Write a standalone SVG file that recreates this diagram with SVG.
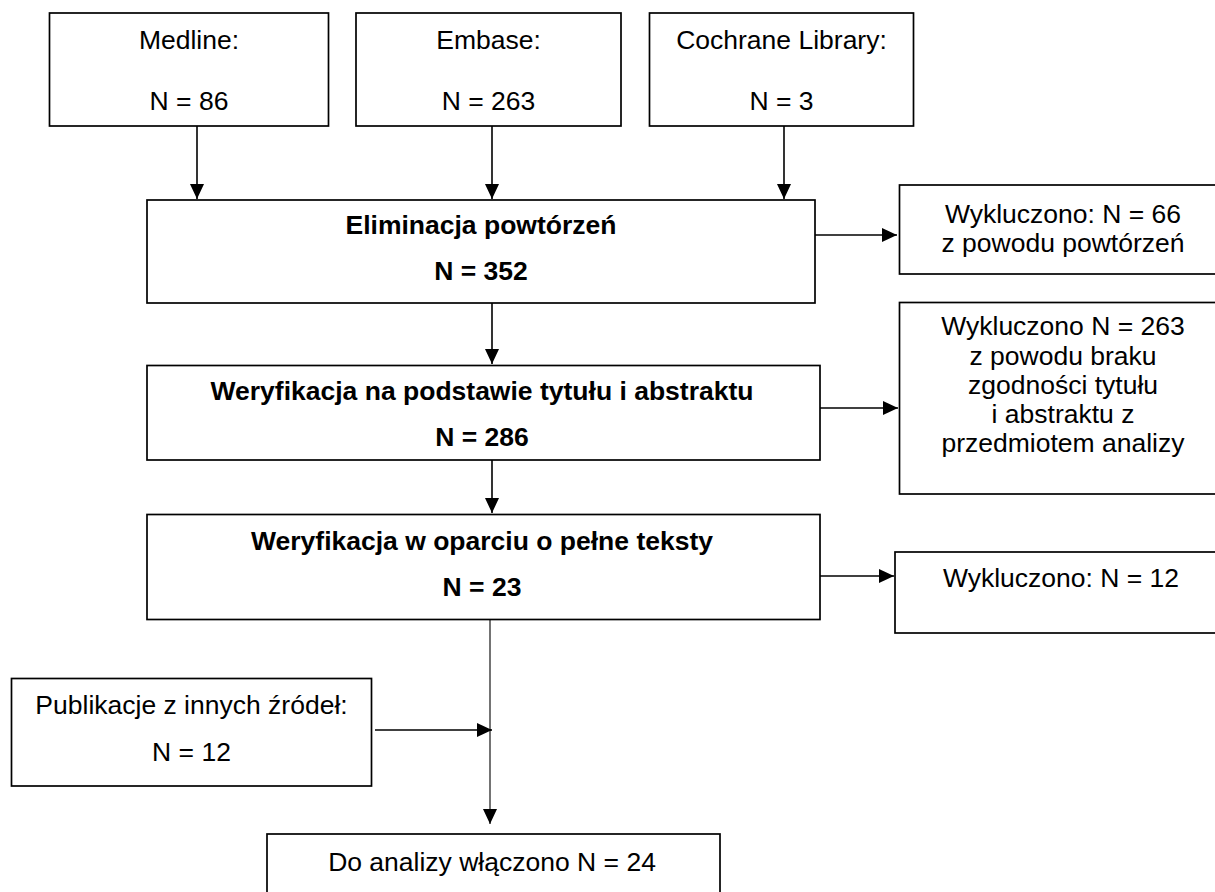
<svg xmlns="http://www.w3.org/2000/svg" width="1215" height="892" viewBox="0 0 1215 892">
<defs>
<marker id="ah" markerUnits="userSpaceOnUse" markerWidth="16" markerHeight="14" refX="15" refY="7" orient="auto">
<path d="M0,0 L15,7 L0,14 Z" fill="#000"/>
</marker>
<style>
.box{fill:#fff;stroke:#000;stroke-width:1.7}
.t{font-family:"Liberation Sans",Arial,sans-serif;font-size:26.5px;fill:#000;text-anchor:middle}
.b{font-weight:bold}
.c{fill:none;stroke:#000;stroke-width:1.6}
.thin{stroke-width:1.1}
</style>
</defs>
<rect width="1215" height="892" fill="#fff"/>
<g id="medline">
<rect class="box" x="49.5" y="13" width="279" height="113"/>
<text class="t" x="189" y="49">Medline:</text>
<text class="t" x="189" y="110">N = 86</text>
</g>
<g id="embase">
<rect class="box" x="356" y="13" width="265" height="113"/>
<text class="t" x="488.5" y="49">Embase:</text>
<text class="t" x="488.5" y="110">N = 263</text>
</g>
<g id="cochrane">
<rect class="box" x="649.5" y="13" width="264" height="113"/>
<text class="t" x="781.5" y="49">Cochrane Library:</text>
<text class="t" x="781.5" y="110">N = 3</text>
</g>
<g id="elim">
<rect class="box" x="147" y="200" width="668" height="103"/>
<text class="t b" x="481" y="234">Eliminacja powtórzeń</text>
<text class="t b" x="481" y="280">N = 352</text>
</g>
<g id="excl1">
<rect class="box" x="899.5" y="185" width="330" height="89"/>
<text class="t" x="1063" y="223">Wykluczono: N = 66</text>
<text class="t" x="1063" y="252">z powodu powtórzeń</text>
</g>
<g id="weryf1">
<rect class="box" x="147" y="365.5" width="673" height="94.5"/>
<text class="t b" x="482" y="400">Weryfikacja na podstawie tytułu i abstraktu</text>
<text class="t b" x="482" y="446">N = 286</text>
</g>
<g id="excl2">
<rect class="box" x="899.5" y="302.5" width="330" height="191.5"/>
<text class="t" x="1063" y="335">Wykluczono N = 263</text>
<text class="t" x="1063" y="365">z powodu braku</text>
<text class="t" x="1063" y="394">zgodności tytułu</text>
<text class="t" x="1063" y="423">i abstraktu z</text>
<text class="t" x="1063" y="452">przedmiotem analizy</text>
</g>
<g id="weryf2">
<rect class="box" x="147" y="514.5" width="673" height="105"/>
<text class="t b" x="482" y="550">Weryfikacja w oparciu o pełne teksty</text>
<text class="t b" x="482" y="596">N = 23</text>
</g>
<g id="excl3">
<rect class="box" x="895" y="552" width="335" height="81"/>
<text class="t" x="1061" y="587">Wykluczono: N = 12</text>
</g>
<g id="publikacje">
<rect class="box" x="11.5" y="678.5" width="360" height="107.5"/>
<text class="t" x="191.5" y="714">Publikacje z innych źródeł:</text>
<text class="t" x="191.5" y="761">N = 12</text>
</g>
<g id="final">
<rect class="box" x="267" y="834" width="453" height="70"/>
<text class="t" x="492" y="871">Do analizy włączono N = 24</text>
</g>
<g id="connectors">
<line class="c" x1="197" y1="126" x2="197" y2="199" marker-end="url(#ah)"/>
<line class="c" x1="492" y1="126" x2="492" y2="199" marker-end="url(#ah)"/>
<line class="c" x1="784" y1="126" x2="784" y2="199" marker-end="url(#ah)"/>
<line class="c" x1="815" y1="235" x2="897" y2="235" marker-end="url(#ah)"/>
<line class="c" x1="492" y1="303" x2="492" y2="364" marker-end="url(#ah)"/>
<line class="c" x1="820" y1="408" x2="898" y2="408" marker-end="url(#ah)"/>
<line class="c" x1="492" y1="460" x2="492" y2="513" marker-end="url(#ah)"/>
<line class="c" x1="820" y1="576" x2="894" y2="576" marker-end="url(#ah)"/>
<line class="c thin" x1="490" y1="620" x2="490" y2="824" marker-end="url(#ah)"/>
<line class="c" x1="375" y1="730" x2="492" y2="730" marker-end="url(#ah)"/>
</g>
</svg>
